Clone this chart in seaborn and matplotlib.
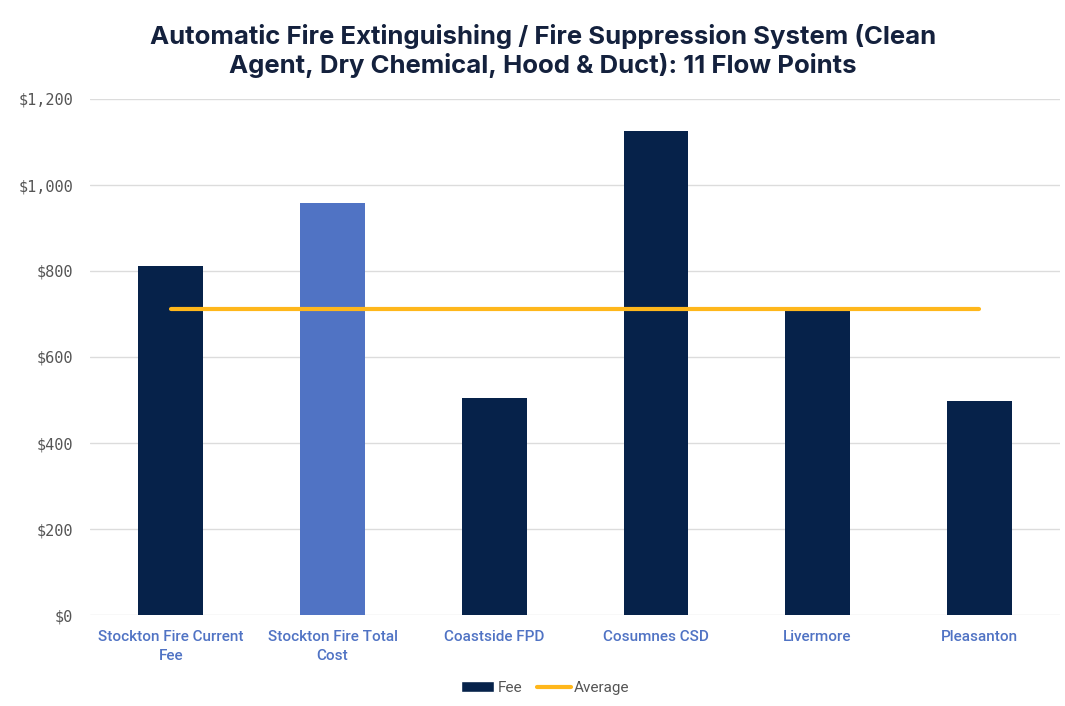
import numpy as np
import pandas as pd
import seaborn as sns
import matplotlib.pyplot as plt
from matplotlib.patches import Patch
from matplotlib.lines import Line2D
from matplotlib.ticker import FuncFormatter

# chart data
agencies = ["Stockton Fire Current\nFee", "Stockton Fire Total\nCost", "Coastside FPD",
            "Cosumnes CSD", "Livermore", "Pleasanton"]
fees = [811, 958, 505, 1126, 714, 498]
average = [711] * len(agencies)

navy = "#06224A"
light_blue = "#5073C4"
gold = "#FFB71B"
bar_colors = [navy, light_blue, navy, navy, navy, navy]

sns.set_theme(style="white")
plt.rcParams['font.family'] = ['Roboto', 'DejaVu Sans']

df = pd.DataFrame({"agency": agencies, "fee": fees})

fig = plt.figure(figsize=(10.65, 7.06), dpi=100)
ax = fig.add_axes([90 / 1065, 1 - 615 / 706, 970 / 1065, 516 / 706])

sns.barplot(data=df, x="agency", y="fee", hue="agency", palette=bar_colors,
            legend=False, width=0.4, saturation=1, ax=ax, edgecolor="none")
ax.plot(np.arange(len(agencies)), average, color=gold, lw=3, solid_capstyle="round", zorder=3)

ax.set_xlim(-0.5, len(agencies) - 0.5)
ax.set_ylim(0, 1200)
ax.set_yticks(np.arange(0, 1201, 200))
ax.yaxis.set_major_formatter(FuncFormatter(lambda v, p: f"${v:,.0f}"))
ax.grid(axis="y", color="#DCDCDC", lw=1)
ax.set_axisbelow(True)
for s in ax.spines.values():
    s.set_visible(False)
ax.set_xlabel("")
ax.set_ylabel("")
ax.tick_params(axis="y", length=0, pad=12, labelsize=11, labelcolor="#555555")
for t in ax.get_yticklabels():
    t.set_family("DejaVu Sans Mono")
ax.tick_params(axis="x", length=0, pad=11, labelsize=11, labelcolor=light_blue)
for t in ax.get_xticklabels():
    t.set_fontweight("medium")
    t.set_linespacing(1.45)

fig.suptitle("Automatic Fire Extinguishing / Fire Suppression System (Clean\nAgent, Dry Chemical, Hood & Duct): 11 Flow Points",
             x=543 / 1065, y=1 - 24 / 706, va="top", fontsize=18.5, fontweight="bold",
             color="#14213D", family=["Inter", "DejaVu Sans"], linespacing=1.2)

handles = [Patch(facecolor=navy, label="Fee"),
           Line2D([0], [0], color=gold, lw=3, label="Average")]
fig.legend(handles=handles, loc="center", bbox_to_anchor=(545 / 1065, 1 - 688 / 706),
           ncol=2, frameon=False, fontsize=11, handlelength=2.2, handletextpad=0.2,
           columnspacing=1.0, labelcolor="#555555")

fig.savefig("out.png", dpi=100)
